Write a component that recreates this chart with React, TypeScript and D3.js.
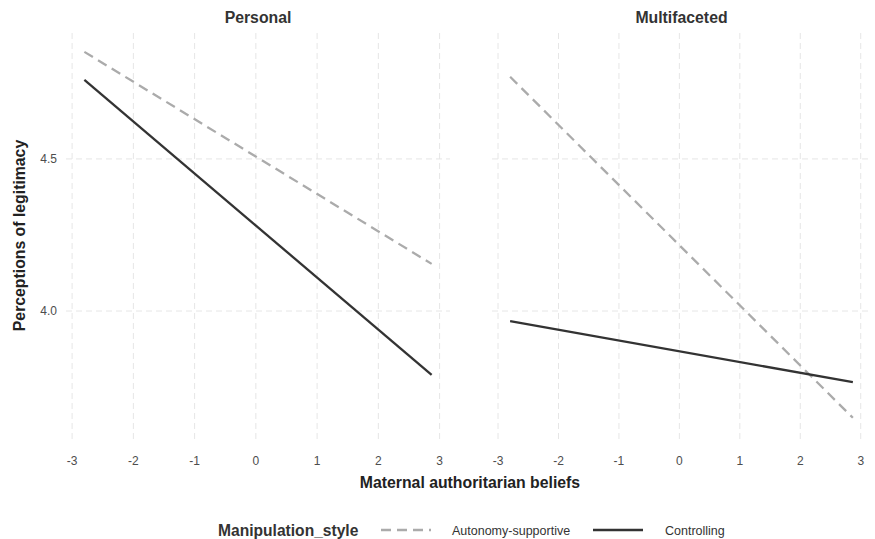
import React from "react";
import * as d3 from "d3";

const panels = ["Personal", "Multifaceted"];
const styles = ["Autonomy-supportive", "Controlling"];
const xEnds = [-2.8, 2.87];
// [y at start, y at end] for each panel / style
const personalAuto = [4.852, 4.155];
const personalCtrl = [4.76, 3.79];
const multiAuto = [4.77, 3.649];
const multiCtrl = [3.967, 3.766];
const xTicks = [-3, -2, -1, 0, 1, 2, 3];
const yTicks = [4.0, 4.5];

const seriesByPanel = [
  [personalAuto, personalCtrl],
  [multiAuto, multiCtrl],
];

const W = 875, H = 539;
const panelX = [[66, 450], [492, 871]];
const top = 33, bottom = 440;
const font = "Liberation Sans, Arial, sans-serif";

export default function App() {
  const y = d3.scaleLinear().domain([3.576, 4.914]).range([bottom, top]);
  const styleColor = ["#ababab", "#333333"];
  const styleDash = ["10,6", null];
  const line = d3.line<[number, number]>();
  return (
    <svg width={W} height={H} style={{ position: "absolute", left: 0, top: 0, background: "#fff" }} fontFamily={font}>
      {panels.map((p, pi) => {
        const x = d3.scaleLinear().domain([-3.1, 3.17]).range(panelX[pi]);
        const [x0, x1] = panelX[pi];
        return (
          <g key={p}>
            {xTicks.map((t) => (
              <line key={"vx" + t} x1={x(t)} x2={x(t)} y1={top} y2={bottom} stroke="#e6e6e6" strokeWidth={1} strokeDasharray="6,4" />
            ))}
            {yTicks.map((t) => (
              <line key={"hy" + t} x1={x0} x2={x1} y1={y(t)} y2={y(t)} stroke="#e6e6e6" strokeWidth={1} strokeDasharray="6,4" />
            ))}
            <text x={(x0 + x1) / 2} y={23} textAnchor="middle" fontWeight="bold" fontSize={15.8} fill="#333">{p}</text>
            {xTicks.map((t) => (
              <text key={"tx" + t} x={x(t)} y={465} textAnchor="middle" fontSize={12} fill="#4d4d4d">{t}</text>
            ))}
            {seriesByPanel[pi].map((s, si) => (
              <path
                key={styles[si]}
                d={line([[x(xEnds[0]), y(s[0])], [x(xEnds[1]), y(s[1])]]) || ""}
                stroke={styleColor[si]}
                strokeWidth={2.3}
                strokeDasharray={styleDash[si] || undefined}
                fill="none"
              />
            ))}
          </g>
        );
      })}
      {yTicks.map((t) => (
        <text key={"ty" + t} x={57} y={y(t) + 4} textAnchor="end" fontSize={12} fill="#4d4d4d">{d3.format(".1f")(t)}</text>
      ))}
      <text x={470} y={488} textAnchor="middle" fontWeight="bold" fontSize={15.8} fill="#222">Maternal authoritarian beliefs</text>
      <text transform={`translate(25,${(top + bottom) / 2 - 1}) rotate(-90)`} textAnchor="middle" fontWeight="bold" fontSize={15.8} fill="#222">Perceptions of legitimacy</text>
      <g>
        <text x={218} y={536} fontWeight="bold" fontSize={15.6} fill="#333">Manipulation_style</text>
        <line x1={381} x2={431} y1={530} y2={530} stroke={styleColor[0]} strokeWidth={2.3} strokeDasharray="10,6" />
        <text x={452} y={534.5} fontSize={12.5} fill="#333">{styles[0]}</text>
        <line x1={593} x2={643} y1={530} y2={530} stroke={styleColor[1]} strokeWidth={2.3} />
        <text x={665} y={534.5} fontSize={12.5} fill="#333">{styles[1]}</text>
      </g>
    </svg>
  );
}
